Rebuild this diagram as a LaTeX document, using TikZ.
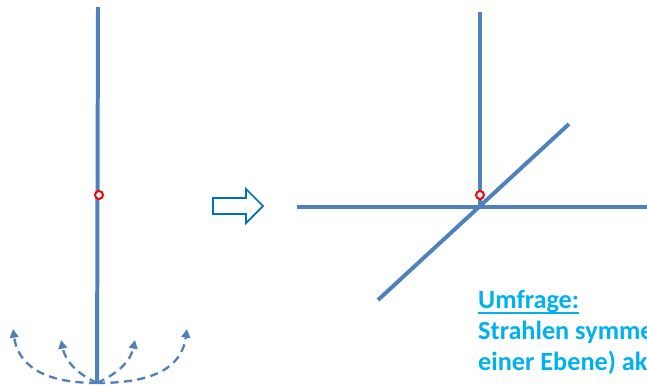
\documentclass[tikz,border=0pt]{standalone}
\usepackage{fontspec}
\setmainfont{Carlito}
\usetikzlibrary{arrows.meta}
\definecolor{rodblue}{RGB}{79,129,189}
\definecolor{hollowblue}{RGB}{0,112,192}
\definecolor{pollcyan}{RGB}{0,176,240}

\begin{document}
\begin{tikzpicture}[
  x=0.03cm,y=-0.03cm,
  rod/.style={draw=rodblue,line width=3.4pt},
  pivot/.style={draw=red,line width=1.7pt,fill=white},
  swing/.style={draw=rodblue,line width=2pt,dash pattern=on 7pt off 4.5pt,
                -{Triangle[length=2.6mm,width=2.6mm]}},
  hollow/.style={draw=hollowblue,line width=1.5pt,fill=white},
  poll/.style={font=\bfseries\fontsize{22.4}{27}\selectfont,text=pollcyan,
               anchor=base west,inner sep=0pt},
]
\useasboundingbox (0,0) rectangle (647,387);
\clip (0,0) rectangle (647,387);
% left: single rod with swing directions
\coordinate (base) at (97,383);
\draw[rod] (98,7) -- (97,382);
\draw[swing] (base) to[out=180,in=-82,looseness=1.1] (13,329);
\draw[swing] (base) to[out=155,in=-78] (61,340);
\draw[swing] (base) to[out=25,in=-102] (135,340);
\draw[swing] (base) to[out=0,in=-98,looseness=1.1] (187,329);
\filldraw[pivot] (99,195) circle (4);
% implies
\draw[hollow] (213,198) -- (246,198) -- (246,189) -- (263,206)
  -- (246,223) -- (246,214) -- (213,214) -- cycle;
% right: three rods
\draw[rod] (480,12) -- (480,207);
\draw[rod] (297,207) -- (647,207);
\draw[rod] (378,300) -- (569,124);
\filldraw[pivot] (480,195) circle (4);
% poll text (cut at the border)
\node[poll] (umfrage) at (478,308) {Umfrage:};
\draw[pollcyan,line width=1.6pt] ([yshift=-4.5pt]umfrage.base west) -- ([yshift=-4.5pt]umfrage.base east);
\node[poll] (zeile1) at (478,339) {Strahlen symme};
\node[poll] (zeile2) at (478,370) {einer Ebene) ak};
\end{tikzpicture}
\end{document}
